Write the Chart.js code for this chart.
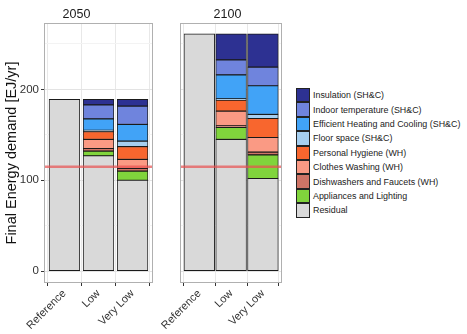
<!DOCTYPE html>
<html>
<head>
<meta charset="utf-8">
<script src="https://cdn.jsdelivr.net/npm/chart.js@4.4.1/dist/chart.umd.min.js"></script>
<style>
  body { margin: 0; background: #fff; width: 467px; height: 334px; overflow: hidden; position: relative;
         font-family: "Liberation Sans", Arial, sans-serif; }
  #c2050 { position: absolute; left: 0; top: 0; }
  #c2100 { position: absolute; left: 160px; top: 0; }
  #legend { position: absolute; left: 296px; top: 88px; }
  .row { display: flex; align-items: center; height: 14.4px; }
  .key { width: 14px; height: 14.4px; box-sizing: border-box; border: 1px solid #222; }
  .lbl { margin-left: 3px; font-size: 8.9px; color: #222; white-space: nowrap; }
</style>
</head>
<body>
<canvas id="c2050" width="160" height="334"></canvas>
<canvas id="c2100" width="130" height="334"></canvas>
<div id="legend"></div>
<script>
const scenarios = ['Reference', 'Low', 'Very Low'];
// stacking order, bottom to top
const components = [
  'Residual',
  'Appliances and Lighting',
  'Dishwashers and Faucets (WH)',
  'Clothes Washing (WH)',
  'Personal Hygiene (WH)',
  'Floor space (SH&C)',
  'Efficient Heating and Cooling (SH&C)',
  'Indoor temperature (SH&C)',
  'Insulation (SH&C)'
];
const fills = ['#d9d9d9', '#80d43c', '#cf7466', '#fa9a84', '#f8662e', '#a6cff0', '#41a3f7', '#6f84dd', '#2d3192'];

// EJ/yr per component, columns = Reference, Low, Very Low
const demand2050 = [
  [189, 127, 100],
  [null, 5, 10],
  [null, 3, 3],
  [null, 10, 10],
  [null, 8.5, 14],
  [null, 1.5, 6],
  [null, 12.5, 18.5],
  [null, 15.5, 20],
  [null, 6, 7.5]
];
const demand2100 = [
  [261, 145, 102],
  [null, 13, 26],
  [null, 2, 3],
  [null, 16, 16],
  [null, 12, 21],
  [null, 1.5, 4.5],
  [null, 26.5, 31.5],
  [null, 16.5, 20.5],
  [null, 28.5, 36.5]
];
const yTicks = [0, 50, 100, 150, 200, 250];
const targetLine = 115;

// red reference line + grey panel frame
const panelDecor = {
  id: 'panelDecor',
  afterDatasetsDraw(chart) {
    const { ctx, chartArea: a, scales } = chart;
    const y = scales.y.getPixelForValue(targetLine);
    ctx.save();
    ctx.strokeStyle = 'rgba(232, 80, 80, 0.7)';
    ctx.lineWidth = 2.5;
    ctx.beginPath();
    ctx.moveTo(a.left, y);
    ctx.lineTo(a.right, y);
    ctx.stroke();
    ctx.strokeStyle = '#b0b0b0';
    ctx.lineWidth = 1;
    ctx.strokeRect(Math.round(a.left) + 0.5, Math.round(a.top) + 0.5,
                   Math.round(a.right - a.left) - 1, Math.round(a.bottom - a.top) - 1);
    ctx.restore();
  }
};

function makeChart(id, year, values, showY, pad) {
  const datasets = components.map((name, i) => ({
    label: name,
    data: values[i].map((v, j) => ({ x: j + 1, y: v })),
    backgroundColor: fills[i],
    borderColor: '#1a1a1a',
    borderWidth: 0.9,
    borderSkipped: false,
    barThickness: 30.7
  }));
  return new Chart(id, {
    type: 'bar',
    data: { datasets },
    plugins: [panelDecor],
    options: {
      responsive: false,
      animation: false,
      layout: { padding: pad },
      plugins: {
        legend: { display: false },
        tooltip: { enabled: false },
        title: {
          display: true, text: year, color: '#1a1a1a',
          font: { size: 12.5, family: 'Liberation Sans', weight: 'normal' },
          padding: { top: 7, bottom: 1 }
        }
      },
      scales: {
        x: {
          type: 'linear', min: 0.4, max: 3.6, stacked: true, offset: false,
          afterBuildTicks: s => { s.ticks = scenarios.map((_, i) => ({ value: i + 1 })); },
          afterFit: s => { s.height = 51; },
          ticks: {
            callback: v => scenarios[v - 1],
            minRotation: 45, maxRotation: 45, autoSkip: false,
            color: '#333', font: { size: 11, family: 'Liberation Sans' }, padding: 1
          },
          grid: { color: '#e8e8e8', tickColor: '#333', tickLength: 3 },
          border: { display: false }
        },
        y: {
          stacked: true, min: -13, max: 273,
          afterBuildTicks: s => { s.ticks = yTicks.map(v => ({ value: v })); },
          afterFit: s => { s.width = showY ? 44 : 0; },
          ticks: {
            display: showY,
            callback: v => (v % 100 === 0 ? v : ''),
            color: '#333', font: { size: 11.5, family: 'Liberation Sans' }, padding: 2
          },
          grid: {
            color: c => (c.tick && c.tick.value % 100 === 0 ? '#e3e3e3' : '#f3f3f3'),
            tickColor: c => (c.tick && c.tick.value % 100 === 0 ? '#333' : 'rgba(0,0,0,0)'),
            tickLength: 3,
            drawTicks: showY
          },
          title: {
            display: showY, text: 'Final Energy demand [EJ/yr]', color: '#111',
            font: { size: 14.5, family: 'Liberation Sans' }, padding: { top: 3, bottom: 0 }
          },
          border: { display: false }
        }
      }
    }
  });
}

makeChart('c2050', '2050', demand2050, true, { left: 0, right: 7, top: 0, bottom: 0 });
makeChart('c2100', '2100', demand2100, false, { left: 13, right: 8, top: 0, bottom: 0 });

// legend, top entry = top of the stack
const legend = document.getElementById('legend');
for (let i = components.length - 1; i >= 0; i--) {
  const row = document.createElement('div');
  row.className = 'row';
  row.innerHTML = '<div class="key" style="background:' + fills[i] + '"></div><span class="lbl"></span>';
  row.querySelector('.lbl').textContent = components[i];
  legend.appendChild(row);
}
</script>
</body>
</html>
